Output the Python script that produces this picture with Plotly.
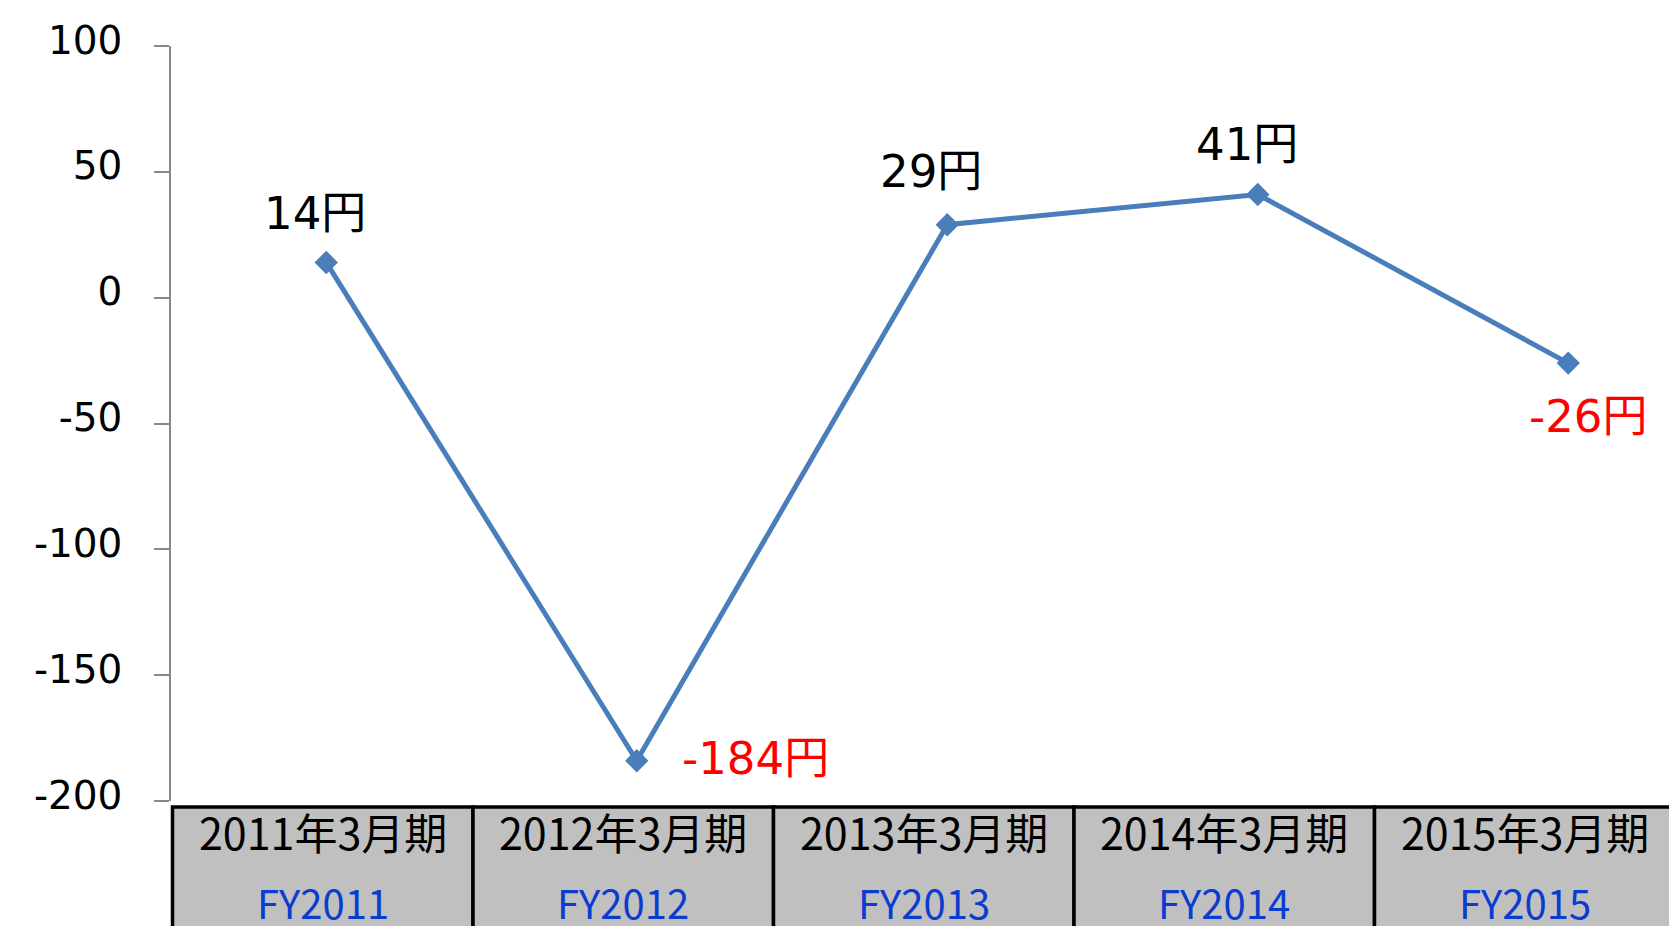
import plotly.graph_objects as go

# ---- data ----
periods = ["2011年3月期", "2012年3月期", "2013年3月期", "2014年3月期", "2015年3月期"]
fy_labels = ["FY2011", "FY2012", "FY2013", "FY2014", "FY2015"]
values = [14, -184, 29, 41, -26]
y_ticks = [-200, -150, -100, -50, 0, 50, 100]
y_tick_text = ["-200", "-150", "-100", "-50", "0", "50", "100"]

W, H = 1669, 926
L, T = 171, 46
plot_w, plot_h = 1498, 755
R = W - L - plot_w
B = H - T - plot_h

LINE_COLOR = "#4A7EBB"
x_idx = list(range(len(values)))

fig = go.Figure()
fig.add_trace(go.Scatter(
    x=x_idx, y=values, mode="lines+markers",
    line=dict(color=LINE_COLOR, width=5),
    marker=dict(symbol="diamond", size=18, color=LINE_COLOR),
    hoverinfo="skip", showlegend=False, cliponaxis=False,
))

# data labels
shifts = [(-11, 49), (119, 2), (-16, 53), (-11, 50), (20, -53)]
for i, v in enumerate(values):
    xs, ys = shifts[i]
    fig.add_annotation(
        x=i, y=v, xref="x", yref="y", text=f"{v}円", showarrow=False,
        xshift=xs, yshift=ys, xanchor="center", yanchor="middle",
        font=dict(family="DejaVu Sans, Noto Sans CJK JP", size=45,
                  color="#FF0000" if v < 0 else "#000000"),
    )

# ---- table under the chart (paper coordinates, from screen pixels) ----
col_w = 300.5
def px_x(px):
    return (px - L) / plot_w
def px_y(py):
    return (T + plot_h - py) / plot_h

n = len(periods)
y_top = px_y(807)
y_bot = px_y(H + 60)
for i in range(n):
    x0 = px_x(172.5 + i * col_w)
    x1 = px_x(172.5 + (i + 1) * col_w) if i < n - 1 else px_x(W + 60)
    fig.add_shape(type="rect", xref="paper", yref="paper",
                  x0=x0, x1=x1, y0=y_bot, y1=y_top,
                  fillcolor="#C0C0C0", line=dict(color="#000000", width=3.5),
                  layer="above")
    cx = px_x(172.5 + (i + 0.5) * col_w)
    fig.add_annotation(x=cx, y=px_y(831), xref="paper", yref="paper",
                       text=periods[i], showarrow=False,
                       xanchor="center", yanchor="middle",
                       font=dict(family="Noto Sans CJK JP", size=43, color="#000000"))
    fig.add_annotation(x=cx, y=px_y(902), xref="paper", yref="paper",
                       text=fy_labels[i], showarrow=False,
                       xanchor="center", yanchor="middle",
                       font=dict(family="Noto Sans CJK JP", size=40, color="#0A3CD0"))

x_right = -0.5 + plot_w / 310.5

fig.update_layout(
    width=W, height=H,
    margin=dict(l=L, r=R, t=T, b=B, pad=0),
    paper_bgcolor="white", plot_bgcolor="white",
    xaxis=dict(range=[-0.5, x_right], visible=False, fixedrange=True),
    yaxis=dict(
        range=[-200, 100], tickvals=y_ticks, ticktext=y_tick_text,
        showgrid=False, zeroline=False,
        showline=True, linecolor="#888888", linewidth=1.5,
        ticks="outside", ticklen=15, tickcolor="#888888", tickwidth=1.5,
        ticklabelstandoff=24, ticklabelshift=-6,
        tickfont=dict(family="DejaVu Sans", size=39, color="#000000"),
    ),
)

fig.write_html(
    "out.html",
    config={"displayModeBar": False},
    post_script=("document.body.style.margin='0';"
                 "document.body.style.overflow='hidden';"
                 "document.documentElement.style.overflow='hidden';"),
)
